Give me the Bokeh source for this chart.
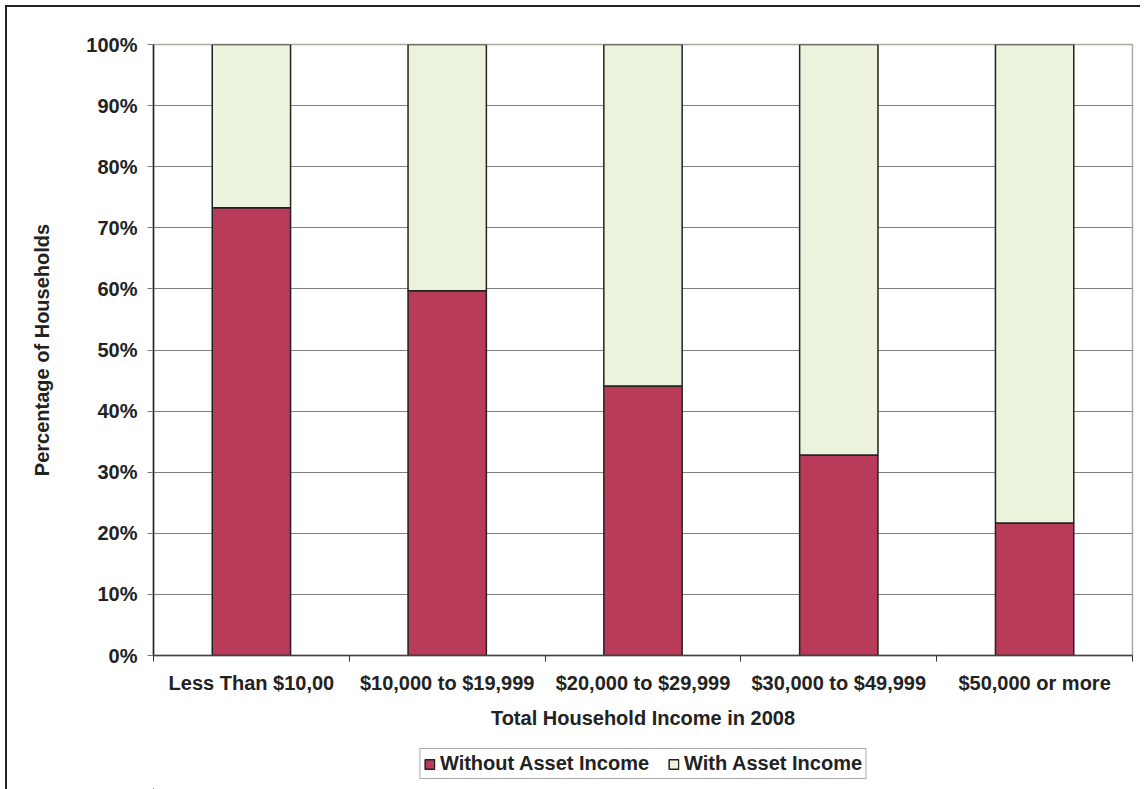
from bokeh.plotting import figure
from bokeh.models import ColumnDataSource, Range1d, FixedTicker, Legend, LegendItem
from bokeh.layouts import column
from bokeh.embed import file_html
from bokeh.resources import INLINE

categories = ["Less Than $10,00", "$10,000 to $19,999", "$20,000 to $29,999",
              "$30,000 to $49,999", "$50,000 or more"]
series = ["Without Asset Income", "With Asset Income"]
without_asset = [0.733, 0.597, 0.441, 0.328, 0.217]
with_asset = [1 - v for v in without_asset]
y_ticks = [i / 10 for i in range(11)]
y_labels = [f"{i * 10}%" for i in range(11)]

colors = ["#B83B5A", "#EBF3DC"]
xpos = [i + 0.5 for i in range(len(categories))]
src = ColumnDataSource(dict(x=xpos, without=without_asset, with_=with_asset))

FONT = "Liberation Sans"
FS = "20px"
W = 1133
p = figure(width=W, height=728, output_backend="svg", toolbar_location=None,
           x_range=Range1d(0, len(categories)), y_range=Range1d(0, 1),
           min_border_left=146, min_border_right=8, min_border_top=37, min_border_bottom=80,
           background_fill_color="white", border_fill_color="white")

p.outline_line_color = "#b0a8a0"
p.outline_line_width = 1.5

rs = p.vbar_stack(["without", "with_"], x="x", width=0.4, source=src,
                  fill_color=colors, line_color="#222222", line_width=1.5)

# grid
p.xgrid.visible = False
p.ygrid.ticker = FixedTicker(ticks=y_ticks)
p.ygrid.grid_line_color = "#808080"
p.ygrid.grid_line_width = 1.2

# y axis
ya = p.yaxis[0]
ya.ticker = FixedTicker(ticks=y_ticks)
ya.major_label_overrides = {t: l for t, l in zip(y_ticks, y_labels)}
ya.major_label_text_font = FONT
ya.major_label_text_font_style = "bold"
ya.major_label_text_font_size = FS
ya.major_label_text_color = "#222222"
ya.major_tick_in = 0
ya.major_tick_out = 6
ya.major_tick_line_color = "#777777"
ya.minor_tick_line_color = None
ya.axis_line_color = "#222222"
ya.axis_line_width = 1.5
ya.major_label_standoff = 10
ya.axis_label = "Percentage of Households"
ya.axis_label_text_font = FONT
ya.axis_label_text_font_style = "bold"
ya.axis_label_text_font_size = FS
ya.axis_label_text_color = "#222222"
ya.axis_label_standoff = 30

# x axis
xa = p.xaxis[0]
xa.ticker = FixedTicker(ticks=xpos, minor_ticks=[float(i) for i in range(len(categories) + 1)])
xa.major_label_overrides = {x: c for x, c in zip(xpos, categories)}
xa.major_label_text_font = FONT
xa.major_label_text_font_style = "bold"
xa.major_label_text_font_size = FS
xa.major_label_text_color = "#222222"
xa.major_tick_in = 0
xa.major_tick_out = 0
xa.minor_tick_in = 0
xa.minor_tick_out = 6
xa.minor_tick_line_color = "#333333"
xa.axis_line_color = "#444444"
xa.axis_line_width = 1.5
xa.major_label_standoff = 10
xa.axis_label = "Total Household Income in 2008"
xa.axis_label_text_font = FONT
xa.axis_label_text_font_style = "bold"
xa.axis_label_text_font_size = FS
xa.axis_label_text_color = "#222222"
xa.axis_label_standoff = 10

# legend strip underneath (same frame width as the chart); its bars lie far outside the view
p2 = figure(width=W, height=54, output_backend="svg", toolbar_location=None,
            x_range=Range1d(1000, 1005), y_range=Range1d(1000, 1001),
            min_border_left=146, min_border_right=8, min_border_top=0, min_border_bottom=0,
            background_fill_color="white", border_fill_color="white")
p2.axis.visible = False
p2.grid.visible = False
p2.outline_line_color = None
rs2 = p2.vbar_stack(["without", "with_"], x="x", width=0.4, source=src,
                    fill_color=colors, line_color="#222222", line_width=1.5)

legend = Legend(items=[LegendItem(label=series[0], renderers=[rs2[0]]),
                       LegendItem(label=series[1], renderers=[rs2[1]])],
                orientation="horizontal", location="top_center")
legend.label_text_font = FONT
legend.label_text_font_style = "bold"
legend.label_text_font_size = FS
legend.label_text_color = "#222222"
legend.glyph_width = 12
legend.glyph_height = 12
legend.label_standoff = 5
legend.spacing = 18
legend.padding = 3
legend.margin = 13
legend.border_line_color = "#555555"
legend.border_line_width = 1
legend.background_fill_alpha = 1
p2.add_layout(legend, "center")

layout = column(p, p2, spacing=0)
layout.styles = {"margin-left": "5px", "margin-top": "5px",
                 "border-left": "2px solid #222", "border-top": "2px solid #222"}

open("out.html", "w").write(file_html(layout, INLINE))
